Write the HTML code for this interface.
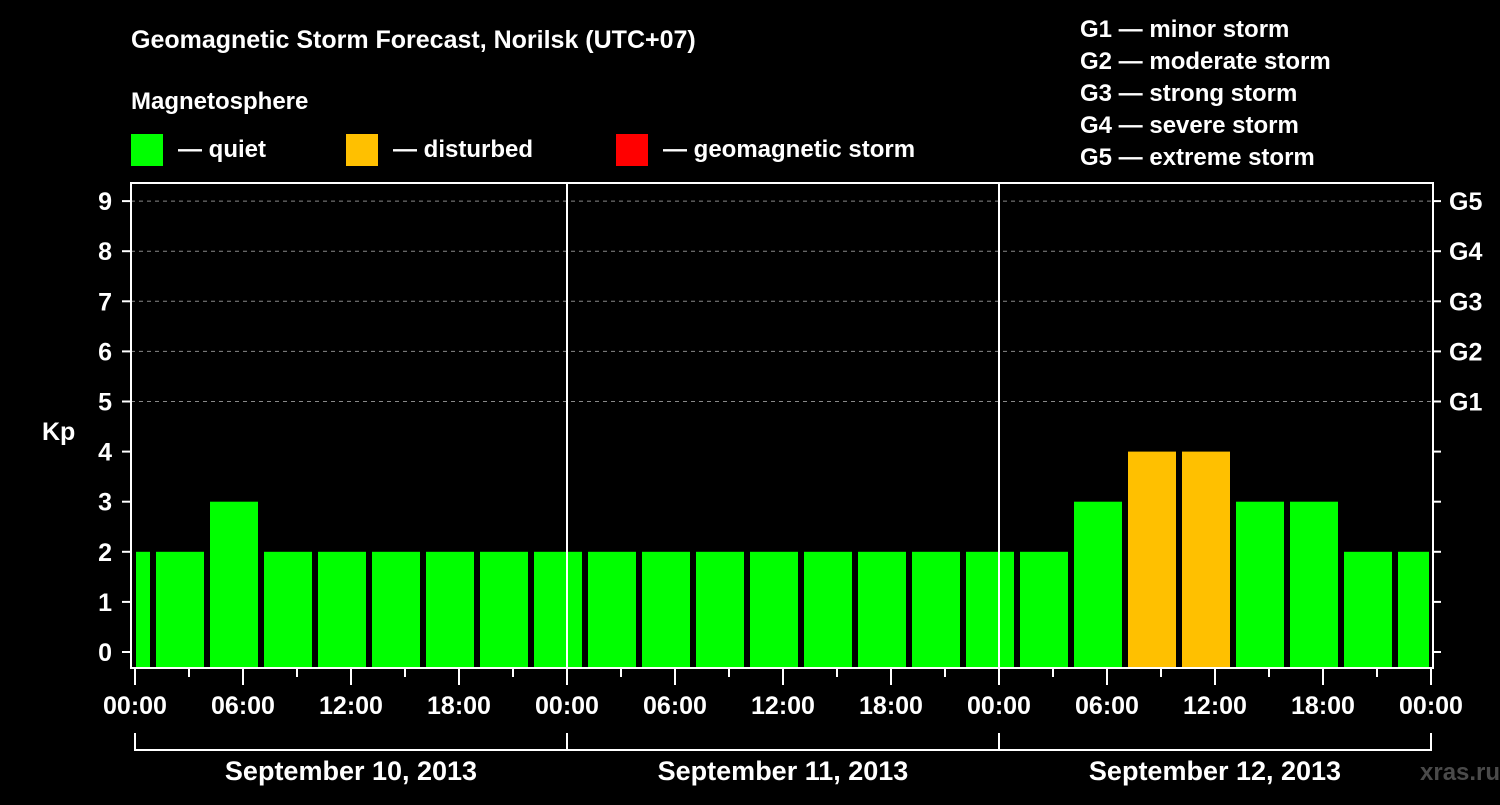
<!DOCTYPE html>
<html><head><meta charset="utf-8"><style>
body{margin:0;background:#000;width:1500px;height:800px;overflow:hidden;font-family:"Liberation Sans",sans-serif}
text{font-family:"Liberation Sans",sans-serif;font-weight:bold;fill:#fff}
</style></head><body>
<svg id="c" width="1500" height="800">
<text x="131" y="48" font-size="25">Geomagnetic Storm Forecast, Norilsk (UTC+07)</text>
<text x="131" y="109" font-size="24">Magnetosphere</text>
<g><rect x="131" y="134" width="32" height="32" fill="#00ff00"/><text x="178" y="157" font-size="24">— quiet</text></g>
<g><rect x="346" y="134" width="32" height="32" fill="#ffc000"/><text x="393" y="157" font-size="24">— disturbed</text></g>
<g><rect x="616" y="134" width="32" height="32" fill="#ff0000"/><text x="663" y="157" font-size="24">— geomagnetic storm</text></g>
<g font-size="24">
<text x="1080" y="37">G1 — minor storm</text><text x="1080" y="69">G2 — moderate storm</text><text x="1080" y="101">G3 — strong storm</text><text x="1080" y="133">G4 — severe storm</text><text x="1080" y="165">G5 — extreme storm</text></g>
<text x="42" y="440" font-size="25">Kp</text>
<text x="1420" y="780" font-size="24" fill="#555" style="fill:#4a4a4a">xras.ru</text>
<g id="plot"></g>
</svg>
<script>
const kpValues=[2,2,3,2,2,2,2,2,2,2,2,2,2,2,2,2,2,2,3,4,4,3,3,2,2];
const yTicks=[0,1,2,3,4,5,6,7,8,9];
const gLabels=["G1","G2","G3","G4","G5"];
const xTickLabels=["00:00","06:00","12:00","18:00","00:00","06:00","12:00","18:00","00:00","06:00","12:00","18:00","00:00"];
const dayLabels=["September 10, 2013","September 11, 2013","September 12, 2013"];
const NS="http://www.w3.org/2000/svg";
const g=document.getElementById('plot');
const X0=135,HPX=18,L=131,R=1433,T=183,B=668;
const xs=h=>X0+h*HPX;
const ys=v=>652-v*50.1;
function el(t,a,p){const e=document.createElementNS(NS,t);for(const k in a)e.setAttribute(k,a[k]);(p||g).appendChild(e);return e;}
// grid
for(let v=5;v<=9;v++){const e=el('line',{x1:L,x2:R,y1:ys(v),y2:ys(v),stroke:'#888','stroke-dasharray':'4,4'});

}
// bars
kpValues.forEach((v,i)=>{let s=i==0?-2:1+(i-1)*3, e2=s+3; let x1=Math.max(xs(s)+3,X0+1), x2=Math.min(xs(e2)-3,R-4);
const c=v>=5?'#ff0000':v>=4?'#ffc000':'#00ff00';
const r=el('rect',{x:x1,y:ys(v),width:x2-x1,height:B-ys(v),fill:c});

});
// day separators
[24,48].forEach(h=>{const e=el('line',{x1:xs(h),x2:xs(h),y1:T,y2:B,stroke:'#fff','stroke-width':2});

});
// frame
const f=el('rect',{x:L,y:T,width:R-L,height:B-T,fill:'none',stroke:'#fff','stroke-width':2});


// y ticks
yTicks.forEach(v=>{el('line',{x1:122,x2:L,y1:ys(v),y2:ys(v),stroke:'#fff','stroke-width':2});
el('line',{x1:R,x2:1441,y1:ys(v),y2:ys(v),stroke:'#fff','stroke-width':2});
const t=el('text',{x:112,y:ys(v)+9,'font-size':25,'text-anchor':'end'});t.textContent=v;

});
gLabels.forEach((l,i)=>{const t=el('text',{x:1449,y:ys(i+5)+9,'font-size':25});t.textContent=l;

});
// x ticks
for(let h=0;h<=72;h+=3){const maj=h%6==0;el('line',{x1:xs(h),x2:xs(h),y1:B,y2:B+(maj?17:9),stroke:'#fff','stroke-width':2});}
xTickLabels.forEach((l,i)=>{const t=el('text',{x:xs(i*6),y:714,'font-size':25,'text-anchor':'middle'});t.textContent=l;

});
// day brackets
dayLabels.forEach((l,i)=>{const a=xs(i*24),b=xs(i*24+24);
el('polyline',{points:`${a},733 ${a},750 ${b},750 ${b},733`,fill:'none',stroke:'#fff','stroke-width':2});
const t=el('text',{x:(a+b)/2,y:780,'font-size':27,'text-anchor':'middle'});t.textContent=l;

});
</script>
</body></html>
